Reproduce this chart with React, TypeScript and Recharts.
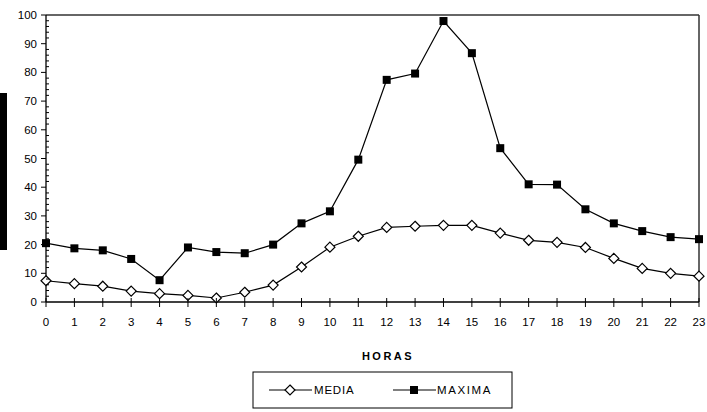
import React from 'react';
import { LineChart, Line, XAxis, YAxis, ReferenceLine } from 'recharts';

const hours = [0, 1, 2, 3, 4, 5, 6, 7, 8, 9, 10, 11, 12, 13, 14, 15, 16, 17, 18, 19, 20, 21, 22, 23];
const media = [7.4, 6.4, 5.5, 3.8, 2.9, 2.3, 1.4, 3.4, 5.9, 12.2, 19.1, 22.9, 26, 26.4, 26.7, 26.7, 24, 21.5, 20.8, 19, 15.2, 11.7, 10, 9];
const maxima = [20.5, 18.7, 18, 15, 7.6, 19, 17.4, 17, 20, 27.4, 31.6, 49.6, 77.4, 79.6, 97.9, 86.7, 53.6, 41, 40.9, 32.3, 27.4, 24.7, 22.6, 21.9];
const majorTicks = [0, 10, 20, 30, 40, 50, 60, 70, 80, 90, 100];
const minorStep = 2;
const xLabel = 'HORAS';
const seriesNames = ['MEDIA', 'MAXIMA'];

const data = hours.map((h, i) => ({ hour: h, media: media[i], maxima: maxima[i] }));
const yTicks: number[] = [];
for (let v = 0; v <= 100; v += minorStep) yTicks.push(v);

const FONT = '"Liberation Sans", Arial, sans-serif';

const XTick = (props: any) => {
  const { x, y, payload } = props;
  return (
    <g>
      <line x1={x} x2={x} y1={y - 4} y2={y + 5} stroke="#000" strokeWidth={1} />
      <text x={x} y={y + 24} textAnchor="middle" fontSize={11.5} fontFamily={FONT} fill="#000">
        {payload.value}
      </text>
    </g>
  );
};

const YTick = (props: any) => {
  const { x, y, payload } = props;
  const isMajor = majorTicks.includes(payload.value);
  if (!isMajor) {
    return <line x1={x} x2={x + 3} y1={y} y2={y} stroke="#000" strokeWidth={1} />;
  }
  return (
    <g>
      <line x1={x - 5} x2={x} y1={y} y2={y} stroke="#000" strokeWidth={1} />
      <text x={x - 9} y={y + 4} textAnchor="end" fontSize={11.5} fontFamily={FONT} fill="#000">
        {payload.value}
      </text>
    </g>
  );
};

const Diamond = (props: any) => {
  const { cx, cy } = props;
  if (cx == null || cy == null) return null;
  const r = 5;
  return (
    <path
      d={`M${cx},${cy - r}L${cx + r},${cy}L${cx},${cy + r}L${cx - r},${cy}Z`}
      fill="#fff"
      stroke="#000"
      strokeWidth={1.2}
    />
  );
};

const Square = (props: any) => {
  const { cx, cy } = props;
  if (cx == null || cy == null) return null;
  const s = 4;
  return <rect x={cx - s} y={cy - s} width={s * 2} height={s * 2} fill="#000" />;
};

export default function App() {
  return (
    <div style={{ position: 'absolute', left: 0, top: 0, width: 707, height: 412, background: '#fff' }}>
      <LineChart width={707} height={412} data={data} margin={{ top: 15, right: 8, left: 0, bottom: 109 }}>
        <XAxis
          dataKey="hour"
          type="category"
          axisLine={{ stroke: '#000', strokeWidth: 1.3 }}
          tickLine={false}
          tickSize={0}
          tickMargin={0}
          interval={0}
          tick={<XTick />}
          height={1}
        />
        <YAxis
          type="number"
          domain={[0, 100]}
          ticks={yTicks}
          interval={0}
          width={46}
          axisLine={{ stroke: '#000', strokeWidth: 1.3 }}
          tickLine={false}
          tickSize={0}
          tickMargin={0}
          tick={<YTick />}
        />
        <ReferenceLine y={100} stroke="#333" strokeWidth={1.5} ifOverflow="extendDomain" />
        <ReferenceLine x={23} stroke="#333" strokeWidth={1.5} />
        <Line
          dataKey="media"
          stroke="#000"
          strokeWidth={1.2}
          dot={<Diamond />}
          activeDot={false}
          isAnimationActive={false}
        />
        <Line
          dataKey="maxima"
          stroke="#000"
          strokeWidth={1.2}
          dot={<Square />}
          activeDot={false}
          isAnimationActive={false}
        />
      </LineChart>
      <div style={{ position: 'absolute', left: 0, top: 93, width: 7, height: 157, background: '#000' }} />
      <div
        style={{
          position: 'absolute',
          left: 300,
          width: 176,
          top: 350,
          textAlign: 'center',
          fontFamily: FONT,
          fontWeight: 'bold',
          fontSize: 11,
          letterSpacing: 2.5,
        }}
      >
        {xLabel}
      </div>
      <svg style={{ position: 'absolute', left: 0, top: 0 }} width={707} height={412}>
        <rect x={253} y={372} width={259} height={36} fill="none" stroke="#000" strokeWidth={1} />
        <line x1={269} x2={312} y1={390} y2={390} stroke="#000" strokeWidth={1.2} />
        <Diamond cx={290} cy={390} />
        <text x={314} y={394} fontSize={11.5} fontFamily={FONT} letterSpacing={0.8}>
          {seriesNames[0]}
        </text>
        <line x1={393} x2={436} y1={390} y2={390} stroke="#000" strokeWidth={1.2} />
        <Square cx={414} cy={390} />
        <text x={437} y={394} fontSize={11.5} fontFamily={FONT} letterSpacing={1.6}>
          {seriesNames[1]}
        </text>
      </svg>
    </div>
  );
}
